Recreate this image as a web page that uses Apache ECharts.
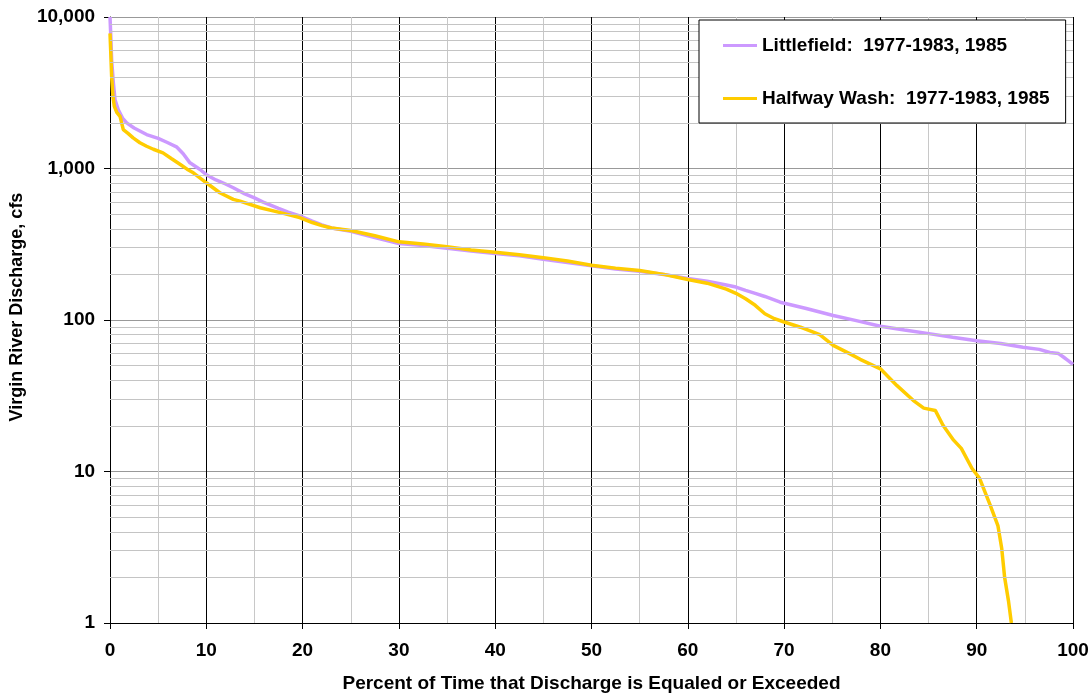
<!DOCTYPE html>
<html>
<head>
<meta charset="utf-8">
<script src="https://cdn.jsdelivr.net/npm/echarts@6/dist/echarts.min.js"></script>
<style>
html,body{margin:0;padding:0;background:#fff;}
#chart{width:1092px;height:698px;}
</style>
</head>
<body>
<div id="chart"></div>
<script>
// Littlefield: percent of time exceeded vs discharge (cfs)
const littlefieldPct = [0, 0.08, 0.17, 0.35, 0.52, 0.86, 1.3, 1.73, 2.5, 3.8, 5.0, 5.9, 6.9, 7.6, 8.3, 9.35, 10.0, 11.0, 12.0, 12.8, 14.0, 15.0, 15.9, 17.5, 18.5, 19.7, 21, 22, 23, 25, 27.5, 30, 32.5, 35, 37.5, 40, 42.5, 45, 47.5, 50, 52.5, 55, 57.5, 60, 62, 64, 65, 66, 67, 68, 69.6, 72.3, 75.1, 77.5, 80, 82.5, 85.2, 87.5, 90, 92.5, 94.8, 96.5, 97.6, 98.5, 99, 99.5, 100];
const littlefieldQ = [10000, 7500, 5200, 3660, 2845, 2444, 2150, 2000, 1850, 1675, 1580, 1490, 1390, 1250, 1090, 985, 910, 840, 790, 746, 680, 640, 600, 545, 515, 486, 450, 425, 405, 385, 350, 320, 310, 298, 285, 275, 265, 252, 240, 228, 217, 210, 200, 188, 180, 170, 165, 157, 150, 143, 131, 119, 107, 99, 91, 86, 81, 77, 73, 70, 66, 64, 61, 60, 57, 54, 51];

// Halfway Wash
const halfwayPct = [0, 0.08, 0.17, 0.3, 0.45, 0.7, 1.04, 1.38, 1.9, 2.4, 3.1, 3.8, 4.5, 5.5, 6.4, 7.3, 8.0, 8.65, 9.3, 10.0, 11.4, 12.8, 13.5, 15.6, 17.7, 19.7, 21, 22, 23, 25, 27.5, 30, 32.5, 35, 37.5, 40, 42.5, 45, 47.5, 50, 52.5, 55, 57.5, 60, 62, 64, 65, 66, 67, 68, 69, 70, 71.7, 73.7, 75.1, 76.8, 77.9, 80, 81.7, 83.4, 84.5, 85.7, 86.5, 87.6, 88.4, 89.5, 90.3, 91.4, 92.2, 92.6, 92.9, 93.3, 93.6];
const halfwayQ = [7800, 5800, 4050, 3000, 2570, 2350, 2208, 1806, 1700, 1592, 1480, 1402, 1340, 1268, 1160, 1063, 990, 937, 870, 805, 692, 625, 609, 551, 511, 474, 440, 420, 405, 390, 360, 328, 318, 305, 290, 280, 270, 258, 245, 230, 220, 212, 200, 185, 175, 160, 150, 138, 125, 110, 102, 97, 89.6, 80, 68, 60, 55, 47.6, 37, 29.5, 26.2, 25.3, 20.2, 16.1, 14.2, 10.5, 9.0, 6.0, 4.4, 3.1, 2.0, 1.4, 1.0];

const seriesNames = ['Littlefield:  1977-1983, 1985', 'Halfway Wash:  1977-1983, 1985'];
const seriesColors = ['#CC99FF', '#FFCC00'];
const xTitle = 'Percent of Time that Discharge is Equaled or Exceeded';
const yTitle = 'Virgin River Discharge, cfs';

// minor log gridlines (2..9 x each decade)
const minorGrid = [];
for (let d = 1; d < 10000; d *= 10) {
  for (let m = 2; m <= 9; m++) minorGrid.push({ yAxis: m * d });
}

const FONT = 'Arial, "Liberation Sans", sans-serif';
const chart = echarts.init(document.getElementById('chart'), null, { renderer: 'canvas' });

const zip = (xs, ys) => xs.map((x, i) => [x, ys[i]]);

chart.setOption({
  animation: false,
  backgroundColor: '#fff',
  grid: { left: 110, right: 19, top: 17, bottom: 73, containLabel: false },
  legend: {
    data: seriesNames,
    orient: 'vertical',
    left: 699, top: 20,
    padding: [16, 16, 15, 24],
    itemGap: 34,
    itemWidth: 34, itemHeight: 3,
    icon: 'rect',
    z: 100,
    backgroundColor: '#fff',
    borderColor: '#000', borderWidth: 1, borderRadius: 0,
    textStyle: { fontFamily: FONT, fontWeight: 'bold', fontSize: 19, color: '#000' }
  },
  xAxis: {
    type: 'value', min: 0, max: 100, interval: 10,
    name: xTitle, nameLocation: 'middle', nameGap: 51,
    nameTextStyle: { fontFamily: FONT, fontWeight: 'bold', fontSize: 19, color: '#000' },
    axisLine: { show: true, onZero: false, lineStyle: { color: '#000', width: 1 } },
    axisTick: { show: true, length: 6, lineStyle: { color: '#000' } },
    axisLabel: { fontFamily: FONT, fontWeight: 'bold', fontSize: 19, color: '#000', margin: 18 },
    splitLine: { show: true, lineStyle: { color: '#000', width: 1 } },
    minorTick: { show: false, splitNumber: 2 },
    minorSplitLine: { show: true, lineStyle: { color: '#c8c8c8', width: 1 } }
  },
  yAxis: {
    type: 'log', logBase: 10, min: 1, max: 10000,
    name: yTitle, nameLocation: 'middle', nameGap: 82, nameRotate: 90,
    nameTextStyle: { fontFamily: FONT, fontWeight: 'bold', fontSize: 18, color: '#000', padding: [0, 0, 0, 26] },
    axisLine: { show: true, lineStyle: { color: '#000', width: 1 } },
    axisTick: { show: true, length: 6, lineStyle: { color: '#000' } },
    axisLabel: {
      fontFamily: FONT, fontWeight: 'bold', fontSize: 19, color: '#000', margin: 15,
      formatter: v => Number(v).toLocaleString('en-US')
    },
    splitLine: { show: true, lineStyle: { color: '#999', width: 1 } }
  },
  series: [
    {
      name: 'minorGrid', type: 'line', data: [], silent: true, z: 1,
      markLine: {
        silent: true, symbol: 'none', label: { show: false },
        lineStyle: { color: '#c4c4c4', width: 1, type: 'solid' },
        emphasis: { disabled: true },
        data: minorGrid
      }
    },
    {
      name: seriesNames[0], type: 'line', data: zip(littlefieldPct, littlefieldQ),
      symbol: 'none', z: 3,
      lineStyle: { color: seriesColors[0], width: 3.5 }, itemStyle: { color: seriesColors[0] }
    },
    {
      name: seriesNames[1], type: 'line', data: zip(halfwayPct, halfwayQ),
      symbol: 'none', z: 4,
      lineStyle: { color: seriesColors[1], width: 3.5 }, itemStyle: { color: seriesColors[1] }
    }
  ]
});
</script>
</body>
</html>
